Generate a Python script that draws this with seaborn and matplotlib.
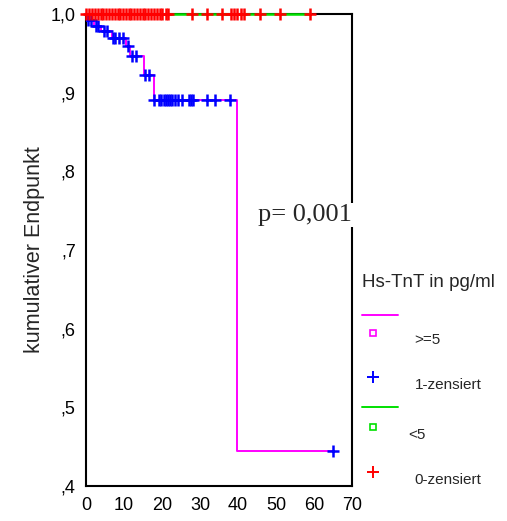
import numpy as np
import pandas as pd
import matplotlib
matplotlib.use('Agg')
import matplotlib.pyplot as plt
import seaborn as sns
from matplotlib.lines import Line2D

# group >=5 : step curve (time, cumulative endpoint)
hi_time = [0, 0.3, 2.0, 4.0, 6.8, 10.5, 11.5, 15.2, 17.8, 39.7, 65.1]
hi_surv = [1.0, 0.992, 0.985, 0.979, 0.970, 0.959, 0.947, 0.922, 0.891, 0.445, 0.445]
hi_cens = [0.6, 1.2, 2.6, 3.2, 4.6, 5.6, 7.0, 7.6, 8.6, 9.8, 11.0, 12.0, 13.2,
           15.6, 16.6, 17.9, 19.1, 19.7, 20.4, 21.1, 21.5, 22.0, 22.6, 23.5,
           24.1, 25.2, 27.0, 27.6, 28.2, 31.8, 34.0, 38.0, 65.1]

# group <5 : no events
lo_time = [0, 58.9]
lo_surv = [1.0, 1.0]
lo_cens = [0.0, 0.8, 1.5, 2.3, 3.0, 3.8, 4.5, 5.3, 6.0, 6.8, 7.5, 8.3, 9.0, 9.8,
           10.5, 11.2, 11.9, 12.6, 13.4, 14.1, 14.9, 15.6, 16.4, 17.1, 17.9,
           18.6, 19.4, 20.1, 20.9, 21.6, 27.9, 31.8, 35.8, 38.1, 39.0, 39.8,
           40.8, 41.7, 45.7, 51.0, 58.9]

x_ticks = [0, 10, 20, 30, 40, 50, 60, 70]
y_ticks = [0.4, 0.5, 0.6, 0.7, 0.8, 0.9, 1.0]
y_ticklabels = [',4', ',5', ',6', ',7', ',8', ',9', '1,0']


def step_value(times, surv, t):
    idx = np.searchsorted(times, t, side='right') - 1
    return np.asarray(surv)[idx]


hi_curve = pd.DataFrame({'t': hi_time, 's': hi_surv})
lo_curve = pd.DataFrame({'t': lo_time, 's': lo_surv})
hi_marks = pd.DataFrame({'t': hi_cens, 's': step_value(hi_time, hi_surv, hi_cens)})
lo_marks = pd.DataFrame({'t': lo_cens, 's': step_value(lo_time, lo_surv, lo_cens)})

sns.set_style('white')
plt.rcParams['font.family'] = ['Liberation Sans', 'DejaVu Sans']

fig = plt.figure(figsize=(5.07, 5.21), dpi=100)
ax = fig.add_axes([0.170, 0.067, 0.524, 0.906])

sns.lineplot(data=hi_curve, x='t', y='s', drawstyle='steps-post', color='#ff00ff',
             lw=1.4, ax=ax, estimator=None, sort=False, zorder=3)
sns.lineplot(data=lo_curve, x='t', y='s', drawstyle='steps-post', color='#00e000',
             lw=1.8, ax=ax, estimator=None, sort=False, zorder=3)
for ln in ax.lines:
    ln.set_clip_on(False)
sns.scatterplot(data=hi_marks, x='t', y='s', marker='+', color='#0000ff', s=85,
                linewidth=1.8, ax=ax, zorder=4)
sns.scatterplot(data=lo_marks, x='t', y='s', marker='+', color='#ff0000', s=85,
                linewidth=1.8, ax=ax, zorder=4, clip_on=False)

ax.set_xlim(0, 70)
ax.set_ylim(0.4, 1.0)
ax.set_xticks(x_ticks)
ax.set_yticks(y_ticks)
ax.set_yticklabels(y_ticklabels)
ax.tick_params(direction='out', length=2.5, width=2.5, colors='black',
               labelsize=13, pad=5)
for sp in ax.spines.values():
    sp.set_color('black')
    sp.set_linewidth(1.5)
ax.set_xlabel('')
ax.set_ylabel('kumulativer Endpunkt', fontsize=15.5, labelpad=4)

ax.text(0.825, 0.574, 'p= 0,001', transform=ax.transAxes, ha='center', va='center',
        family=['Liberation Serif', 'DejaVu Serif'], fontsize=19,
        bbox=dict(facecolor='white', edgecolor='none', pad=1), zorder=6)

# legend drawn outside the axes
fig.text(0.714, 0.457, 'Hs-TnT in pg/ml', fontsize=13.5, ha='left', va='center')
fig.add_artist(Line2D([0.714, 0.785], [0.395, 0.395], color='#ff00ff', lw=1.4))
fig.add_artist(Line2D([0.736], [0.361], marker='s', ms=4, mfc='none', mec='#ff00ff',
                      mew=1.2, ls='none'))
fig.text(0.818, 0.348, '>=5', fontsize=11, ha='left', va='center')
fig.add_artist(Line2D([0.736], [0.276], marker='+', ms=8, mec='#0000ff',
                      mew=1.4, ls='none'))
fig.text(0.818, 0.261, '1-zensiert', fontsize=11, ha='left', va='center')
fig.add_artist(Line2D([0.714, 0.785], [0.219, 0.219], color='#00e000', lw=1.4))
fig.add_artist(Line2D([0.736], [0.180], marker='s', ms=4, mfc='none', mec='#00e000',
                      mew=1.2, ls='none'))
fig.text(0.805, 0.165, '<5', fontsize=11, ha='left', va='center')
fig.add_artist(Line2D([0.736], [0.094], marker='+', ms=8, mec='#ff0000',
                      mew=1.4, ls='none'))
fig.text(0.818, 0.079, '0-zensiert', fontsize=11, ha='left', va='center')

fig.savefig('out.png', dpi=100)
